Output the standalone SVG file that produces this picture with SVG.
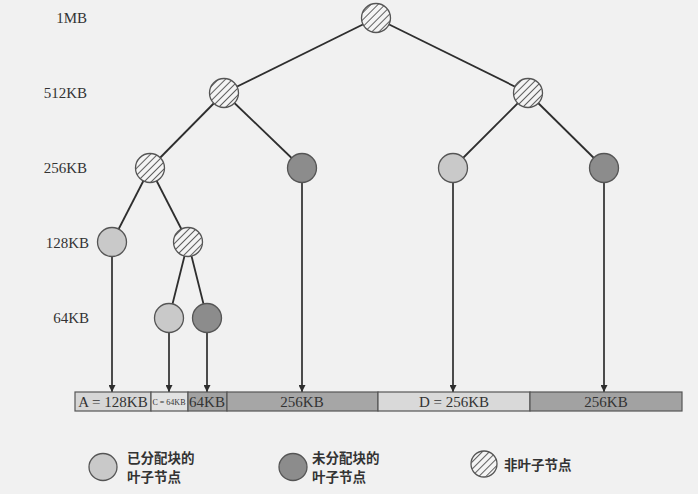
<svg xmlns="http://www.w3.org/2000/svg" width="698" height="494" viewBox="0 0 698 494">
<style>
.lbl{font-family:"Liberation Serif","Times New Roman",serif;font-size:15px;fill:#333}
.bt{font-family:"Liberation Serif","Times New Roman",serif;font-size:15px;fill:#333;text-anchor:middle}
.leg{font-family:"Noto Sans CJK SC","Noto Sans",sans-serif;font-size:13.5px;font-weight:bold;fill:#333}
.edge{stroke:#2e2e2e;stroke-width:1.8;fill:none}
.arr{stroke:#2e2e2e;stroke-width:1.7;fill:none;marker-end:url(#ah)}
.light{fill:#c9c9c9;stroke:#555;stroke-width:1.3}
.dark{fill:#8c8c8c;stroke:#555;stroke-width:1.3}
.hatch{fill:url(#hp);stroke:#555;stroke-width:1.3}
.seg{stroke:#555;stroke-width:1.2}
</style>
<defs>
<pattern id="hp" patternUnits="userSpaceOnUse" width="5" height="5" patternTransform="rotate(45)">
<rect width="5" height="5" fill="#f4f4f4"/>
<line x1="0" y1="0" x2="0" y2="5" stroke="#3a3a3a" stroke-width="1.6"/>
</pattern>
<marker id="ah" viewBox="0 0 10 10" refX="10" refY="5" markerWidth="7" markerHeight="7" markerUnits="userSpaceOnUse" orient="auto">
<path d="M0,0 L10,5 L0,10 z" fill="#2e2e2e"/>
</marker>
</defs>
<rect width="698" height="494" fill="#f1f1f1"/>

<g id="levels">
<text class="lbl" x="87" y="23" text-anchor="end">1MB</text>
<text class="lbl" x="87" y="98" text-anchor="end">512KB</text>
<text class="lbl" x="87" y="173" text-anchor="end">256KB</text>
<text class="lbl" x="89" y="248" text-anchor="end">128KB</text>
<text class="lbl" x="89" y="323" text-anchor="end">64KB</text>
</g>

<g id="connectors">
<line class="edge" x1="376" y1="18" x2="224" y2="93"/>
<line class="edge" x1="376" y1="18" x2="528" y2="93"/>
<line class="edge" x1="224" y1="93" x2="150" y2="168"/>
<line class="edge" x1="224" y1="93" x2="302" y2="168"/>
<line class="edge" x1="528" y1="93" x2="453" y2="168"/>
<line class="edge" x1="528" y1="93" x2="604" y2="168"/>
<line class="edge" x1="150" y1="168" x2="112" y2="242"/>
<line class="edge" x1="150" y1="168" x2="188" y2="242"/>
<line class="edge" x1="188" y1="242" x2="169" y2="318"/>
<line class="edge" x1="188" y1="242" x2="207" y2="318"/>
<line class="arr" x1="112" y1="256" x2="112" y2="392"/>
<line class="arr" x1="169" y1="332" x2="169" y2="392"/>
<line class="arr" x1="207" y1="332" x2="207" y2="392"/>
<line class="arr" x1="302" y1="182" x2="302" y2="392"/>
<line class="arr" x1="453" y1="182" x2="453" y2="392"/>
<line class="arr" x1="604" y1="182" x2="604" y2="392"/>
</g>

<g id="n-1mb"><circle class="hatch" cx="376" cy="18" r="14.5"/></g>
<g id="n-512a"><circle class="hatch" cx="224" cy="93" r="14.5"/></g>
<g id="n-512b"><circle class="hatch" cx="528" cy="93" r="14.5"/></g>
<g id="n-256a"><circle class="hatch" cx="150" cy="168" r="14.5"/></g>
<g id="n-256b"><circle class="dark" cx="302" cy="168" r="14.5"/></g>
<g id="n-256c"><circle class="light" cx="453" cy="168" r="14.5"/></g>
<g id="n-256d"><circle class="dark" cx="604" cy="168" r="14.5"/></g>
<g id="n-128a"><circle class="light" cx="112" cy="242" r="14.5"/></g>
<g id="n-128b"><circle class="hatch" cx="188" cy="242" r="14.5"/></g>
<g id="n-64a"><circle class="light" cx="169" cy="318" r="14.5"/></g>
<g id="n-64b"><circle class="dark" cx="207" cy="318" r="14.5"/></g>

<g id="memory-bar">
<rect class="seg" x="75" y="392" width="76" height="19" fill="#d6d6d6"/>
<rect class="seg" x="151" y="392" width="37" height="19" fill="#e2e2e2"/>
<rect class="seg" x="188" y="392" width="39" height="19" fill="#a2a2a2"/>
<rect class="seg" x="227" y="392" width="151" height="19" fill="#a6a6a6"/>
<rect class="seg" x="378" y="392" width="152" height="19" fill="#d9d9d9"/>
<rect class="seg" x="530" y="392" width="152" height="19" fill="#a2a2a2"/>
<text class="bt" x="113" y="407">A = 128KB</text>
<text class="bt" x="169" y="405" style="font-size:8px">C = 64KB</text>
<text class="bt" x="207" y="407">64KB</text>
<text class="bt" x="302" y="407">256KB</text>
<text class="bt" x="454" y="407">D = 256KB</text>
<text class="bt" x="606" y="407">256KB</text>
</g>

<g id="legend-allocated">
<ellipse class="light" cx="103" cy="467" rx="14" ry="13.5"/>
<text class="leg" x="127" y="463">已分配块的</text>
<text class="leg" x="127" y="482">叶子节点</text>
</g>
<g id="legend-free">
<ellipse class="dark" cx="293" cy="467" rx="14" ry="13.5"/>
<text class="leg" x="312" y="463">未分配块的</text>
<text class="leg" x="312" y="482">叶子节点</text>
</g>
<g id="legend-internal">
<circle class="hatch" cx="484" cy="464" r="13"/>
<text class="leg" x="504" y="470">非叶子节点</text>
</g>
</svg>
